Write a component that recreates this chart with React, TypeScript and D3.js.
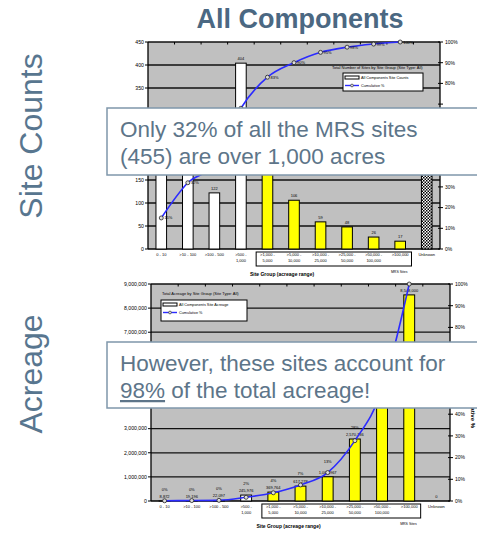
import React, { useEffect, useRef } from 'react';
import * as d3 from 'd3';

// Site groups (acreage range) shared by both charts
const categories = ['0 - 10', '>10 - 100', '>100 - 500', '>500 - 1,000', '>1,000 - 5,000', '>5,000 - 10,000', '>10,000 - 25,000', '>25,000 - 50,000', '>50,000 - 100,000', '>100,000', 'Unknown'];
const tickLines = [['0 - 10'], ['>10 - 100'], ['>100 - 500'], ['>500 -', '1,000'], ['>1,000 -', '5,000'], ['>5,000 -', '10,000'], ['>10,000 -', '25,000'], ['>25,000 -', '50,000'], ['>50,000 -', '100,000'], ['>100,000'], ['Unknown']];

// Site counts
const siteCounts = [212, 241, 122, 404, 213, 106, 59, 48, 26, 17, 230];
const countCumPct = [15, 32, 41, 68, 83, 90, 95, 97.5, 99, 100];
const countTicks = [0, 50, 100, 150, 200, 250, 300, 350, 400, 450];

// Acreage
const acreage = [8872, 19196, 22097, 245976, 369764, 617278, 1003967, 2570736, 4050000, 8548000, 0];
const acreageCumPct = [0.1, 0.2, 0.3, 1.7, 3.8, 7.4, 13.1, 27.8, 51, 100];
const acreageTicks = [0, 1000000, 2000000, 3000000, 4000000, 5000000, 6000000, 7000000, 8000000, 9000000];

const pctTicks = [0, 10, 20, 30, 40, 50, 60, 70, 80, 90, 100];

const FONT = '"Liberation Sans", Arial, sans-serif';
const W = 477;
const H = 534;

// y ranges hidden behind the two callout boxes
const covers = [[104, 178], [338, 411]];
const covered = yy => covers.some(([a, b]) => yy > a && yy < b);

const App = () => {
  const ref = useRef(null);

  useEffect(() => {
    if (!ref.current) return;
    d3.select(ref.current).selectAll('*').remove();

    const svg = d3.select(ref.current)
      .append('svg')
      .attr('width', W)
      .attr('height', H)
      .style('display', 'block')
      .style('font-family', FONT)
      .style('background', 'white');

    // checkered pattern for the "unknown" bar
    const pat = svg.append('defs').append('pattern')
      .attr('id', 'checker')
      .attr('width', 3)
      .attr('height', 3)
      .attr('patternUnits', 'userSpaceOnUse');
    pat.append('rect').attr('width', 3).attr('height', 3).attr('fill', 'white');
    pat.append('rect').attr('width', 1.5).attr('height', 1.5).attr('fill', 'black');
    pat.append('rect').attr('x', 1.5).attr('y', 1.5).attr('width', 1.5).attr('height', 1.5).attr('fill', 'black');

    // one Excel-like combo chart
    function drawChart(opts) {
      const { left, right, top, bottom, values, cum, ticks, fmt, colors, legendTitle, legendItem, legendBox, cumLabel } = opts;
      const g = svg.append('g');

      const x = d3.scaleBand().domain(categories).range([left, right]).paddingInner(0.6).paddingOuter(0.3);
      const y = d3.scaleLinear().domain([0, ticks[ticks.length - 1]]).range([bottom, top]);
      const yp = d3.scaleLinear().domain([0, 100]).range([bottom, top]);

      g.append('rect')
        .attr('x', left).attr('y', top)
        .attr('width', right - left).attr('height', bottom - top)
        .attr('fill', '#c0c0c0');

      // gridlines
      g.selectAll('.grid').data(ticks.slice(1)).enter().append('line')
        .attr('x1', left).attr('x2', right)
        .attr('y1', d => y(d)).attr('y2', d => y(d))
        .attr('stroke', '#111').attr('stroke-width', 1.3);

      // frame
      g.append('line').attr('x1', left).attr('x2', left).attr('y1', top).attr('y2', bottom).attr('stroke', '#000').attr('stroke-width', 1.3);
      g.append('line').attr('x1', right).attr('x2', right).attr('y1', top).attr('y2', bottom).attr('stroke', '#000').attr('stroke-width', 1.3);
      g.append('line').attr('x1', left).attr('x2', right).attr('y1', bottom).attr('y2', bottom).attr('stroke', '#000').attr('stroke-width', 1.3);

      // top tick marks at category boundaries
      const step = (right - left) / categories.length;
      g.selectAll('.ttick').data(d3.range(1, categories.length)).enter().append('line')
        .attr('x1', i => left + i * step).attr('x2', i => left + i * step)
        .attr('y1', top).attr('y2', top + 2.5)
        .attr('stroke', '#000').attr('stroke-width', 1);

      // left axis
      g.selectAll('.ltick').data(ticks).enter().append('line')
        .attr('x1', left - 3).attr('x2', left)
        .attr('y1', d => y(d)).attr('y2', d => y(d))
        .attr('stroke', '#000');
      g.selectAll('.llab').data(ticks.filter(d => !covered(y(d)))).enter().append('text')
        .attr('x', left - 4).attr('y', d => y(d) + 1.8)
        .attr('text-anchor', 'end')
        .style('font-size', '5.2px')
        .text(d => fmt(d));

      // right axis
      g.selectAll('.rtick').data(pctTicks).enter().append('line')
        .attr('x1', right - 2).attr('x2', right + 3)
        .attr('y1', d => yp(d)).attr('y2', d => yp(d))
        .attr('stroke', '#000');
      g.selectAll('.rlab').data(pctTicks.filter(d => !covered(yp(d)))).enter().append('text')
        .attr('x', right + 5).attr('y', d => yp(d) + 1.8)
        .style('font-size', '5px')
        .text(d => `${d}%`);

      // bars
      g.selectAll('.bar').data(values).enter().append('rect')
        .attr('x', (d, i) => x(categories[i]))
        .attr('y', d => y(d))
        .attr('width', x.bandwidth())
        .attr('height', d => bottom - y(d))
        .attr('fill', (d, i) => colors[i])
        .attr('stroke', '#000')
        .attr('stroke-width', 1);

      // bar value labels
      const cx = i => x(categories[i]) + x.bandwidth() / 2;
      values.forEach((d, i) => {
        if (covered(y(d) - 3)) return;
        g.append('text')
          .attr('x', cx(i))
          .attr('y', y(d) - 3)
          .attr('text-anchor', 'middle')
          .style('font-size', '4px')
          .text(fmt(d));
      });

      // cumulative line
      const line = d3.line().x((d, i) => cx(i)).y(d => yp(d)).curve(d3.curveMonotoneX);
      g.append('path').datum(cum)
        .attr('d', line)
        .attr('fill', 'none')
        .attr('stroke', '#2b2bff')
        .attr('stroke-width', 1.6);
      g.selectAll('.pt').data(cum).enter().append('circle')
        .attr('cx', (d, i) => cx(i)).attr('cy', d => yp(d))
        .attr('r', 2)
        .attr('fill', '#ddd').attr('stroke', '#222').attr('stroke-width', 0.8);
      cumLabel(g, cx, yp, y);

      // x tick labels
      tickLines.forEach((lines, i) => {
        lines.forEach((t, j) => {
          g.append('text')
            .attr('x', cx(i)).attr('y', bottom + 7 + j * 5.5)
            .attr('text-anchor', 'middle')
            .style('font-size', '4px')
            .text(t);
        });
      });
      // box around the "over 1,000 acres" groups
      const bx0 = x(categories[4]) - 6;
      const bx1 = x(categories[9]) + x.bandwidth() + 6;
      g.append('rect')
        .attr('x', bx0).attr('y', bottom + 3)
        .attr('width', bx1 - bx0).attr('height', 14)
        .attr('fill', 'none').attr('stroke', '#000').attr('stroke-width', 1);

      g.append('text')
        .attr('x', (left + right) / 2 - 12).attr('y', bottom + 27)
        .attr('text-anchor', 'middle')
        .style('font-size', '5px').style('font-weight', 'bold')
        .text('Site Group (acreage range)');
      g.append('text')
        .attr('x', bx1 - 4).attr('y', bottom + 24)
        .attr('text-anchor', 'end')
        .style('font-size', '3.5px')
        .text('MRS Sites');

      // legend
      const lg = g.append('g');
      lg.append('text')
        .attr('x', legendTitle.x).attr('y', legendTitle.y)
        .style('font-size', '4px')
        .text(legendTitle.text);
      lg.append('rect')
        .attr('x', legendBox.x).attr('y', legendBox.y)
        .attr('width', legendBox.w).attr('height', legendBox.h)
        .attr('fill', 'white').attr('stroke', '#000').attr('stroke-width', 1);
      lg.append('rect')
        .attr('x', legendBox.x + 2).attr('y', legendBox.y + 3)
        .attr('width', 14).attr('height', 3)
        .attr('fill', 'white').attr('stroke', '#000').attr('stroke-width', 1);
      lg.append('text')
        .attr('x', legendBox.x + 18).attr('y', legendBox.y + 6)
        .style('font-size', '3.8px')
        .text(legendItem);
      lg.append('line')
        .attr('x1', legendBox.x + 2).attr('x2', legendBox.x + 16)
        .attr('y1', legendBox.y + 12.5).attr('y2', legendBox.y + 12.5)
        .attr('stroke', '#2b2bff').attr('stroke-width', 1.4);
      lg.append('circle')
        .attr('cx', legendBox.x + 9).attr('cy', legendBox.y + 12.5).attr('r', 1.4)
        .attr('fill', '#ddd').attr('stroke', '#222').attr('stroke-width', 0.6);
      lg.append('text')
        .attr('x', legendBox.x + 18).attr('y', legendBox.y + 14)
        .style('font-size', '3.8px')
        .text('Cumulative %');
    }

    const countColors = categories.map((c, i) => (i < 4 ? 'white' : i < 10 ? '#ffff00' : 'url(#checker)'));
    drawChart({
      left: 148, right: 440, top: 42, bottom: 249,
      values: siteCounts, cum: countCumPct, ticks: countTicks,
      fmt: d3.format(','),
      colors: countColors,
      legendTitle: { x: 332, y: 69, text: 'Total Number of Sites by Site Group (Site Type: All)' },
      legendItem: 'All Components Site Counts',
      legendBox: { x: 343, y: 73, w: 80, h: 18 },
      cumLabel: (g, cx, yp) => {
        countCumPct.forEach((d, i) => {
          if (covered(yp(d))) return;
          g.append('text')
            .attr('x', cx(i) + 3).attr('y', yp(d) + 1.5)
            .style('font-size', '4px')
            .text(`${Math.round(d)}%`);
        });
      }
    });

    const acreColors = categories.map((c, i) => (i < 4 ? 'white' : '#ffff00'));
    drawChart({
      left: 151, right: 450, top: 284, bottom: 501,
      values: acreage, cum: acreageCumPct, ticks: acreageTicks,
      fmt: d3.format(','),
      colors: acreColors,
      legendTitle: { x: 162, y: 295, text: 'Total Acreage by Site Group (Site Type: All)' },
      legendItem: 'All Components Site Acreage',
      legendBox: { x: 161, y: 300, w: 86, h: 21 },
      cumLabel: (g, cx, yp, y) => {
        acreageCumPct.forEach((d, i) => {
          const ly = Math.min(yp(d), y(acreage[i])) - 10;
          if (covered(ly) || ly < 288) return;
          g.append('text')
            .attr('x', cx(i)).attr('y', ly)
            .attr('text-anchor', 'middle')
            .style('font-size', '4px')
            .text(`${Math.round(d)}%`);
        });
      }
    });

    // right axis title of the acreage chart
    svg.append('text')
      .attr('transform', 'translate(471, 428) rotate(90)')
      .attr('text-anchor', 'end')
      .style('font-size', '6px').style('font-weight', 'bold')
      .text('Cumulative %');

    // slide title and side labels
    svg.append('text')
      .attr('x', 300).attr('y', 28)
      .attr('text-anchor', 'middle')
      .style('font-size', '27px').style('font-weight', 'bold')
      .style('fill', '#4b6882')
      .text('All Components');
    svg.append('text')
      .attr('transform', 'translate(42, 136) rotate(-90)')
      .attr('text-anchor', 'middle')
      .style('font-size', '32px')
      .style('fill', '#58768f')
      .text('Site Counts');
    svg.append('text')
      .attr('transform', 'translate(42, 374) rotate(-90)')
      .attr('text-anchor', 'middle')
      .style('font-size', '32px')
      .style('fill', '#58768f')
      .text('Acreage');

    // callouts
    const callout = (y0, h, lines) => {
      svg.append('rect')
        .attr('x', 107).attr('y', y0)
        .attr('width', 380).attr('height', h)
        .attr('fill', 'white')
        .attr('stroke', '#7f97ab').attr('stroke-width', 1.5);
      lines.forEach((l, i) => {
        const t = svg.append('text')
          .attr('x', 120).attr('y', y0 + 29 + i * 27)
          .style('font-size', '22.5px')
          .style('fill', '#5d7589');
        l.forEach(part => {
          t.append('tspan')
            .style('text-decoration', part.u ? 'underline' : 'none')
            .text(part.t);
        });
      });
    };
    callout(108, 67, [[{ t: 'Only 32% of all the MRS sites' }], [{ t: '(455) are over 1,000 acres' }]]);
    callout(342, 66, [[{ t: 'However, these sites account for' }], [{ t: '98%', u: true }, { t: ' of the total acreage!' }]]);
  }, []);

  return (
    <div style={{ position: 'absolute', left: 0, top: 0, width: W, height: H, overflow: 'hidden' }}>
      <div ref={ref} />
    </div>
  );
};

export default App;
